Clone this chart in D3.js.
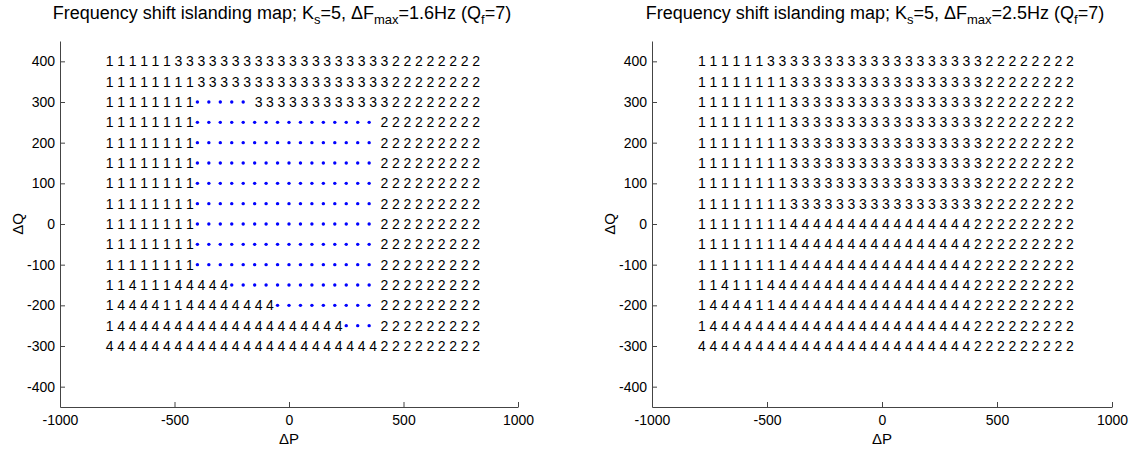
<!DOCTYPE html>
<html>
<head>
<meta charset="utf-8">
<script src="https://cdn.jsdelivr.net/npm/d3@7"></script>
<style>
body { margin: 0; background: #fff; }
svg { display: block; font-family: "Liberation Sans", Arial, sans-serif; }
</style>
</head>
<body>
<svg id="chart" width="1136" height="451"></svg>
<script>
// operating points (columns = dP, rows = dQ, top row first)
var pValues = [-800,-750,-700,-650,-600,-550,-500,-450,-400,-350,-300,-250,-200,-150,-100,-50,0,
               50,100,150,200,250,300,350,400,450,500,550,600,650,700,750,800]
var qValues = [400,350,300,250,200,150,100,50,0,-50,-100,-150,-200,-250,-300]
var xTicks = [-1000,-500,0,500,1000]
var yTicks = [-400,-300,-200,-100,0,100,200,300,400]

// trip code for each point, '.' = island not detected
// (spaces only split the 33 columns into groups of 11)
var mapLow = [
  "11111133333 33333333333 33322222222",
  "11111111333 33333333333 33322222222",
  "11111111... ..333333333 33322222222",
  "11111111... ........... ..222222222",
  "11111111... ........... ..222222222",
  "11111111... ........... ..222222222",
  "11111111... ........... ..222222222",
  "11111111... ........... ..222222222",
  "11111111... ........... ..222222222",
  "11111111... ........... ..222222222",
  "11111111... ........... ..222222222",
  "11411144444 ........... ..222222222",
  "14444114444 4444....... ..222222222",
  "14444444444 4444444444. ..222222222",
  "44444444444 44444444444 44222222222"
]
var mapHigh = [
  "11111133333 33333333333 33322222222",
  "11111111333 33333333333 33322222222",
  "11111111333 33333333333 33322222222",
  "11111111333 33333333333 33322222222",
  "11111111333 33333333333 33322222222",
  "11111111333 33333333333 33322222222",
  "11111111333 33333333333 33322222222",
  "11111111333 33333333333 33322222222",
  "11111111444 44444444444 44222222222",
  "11111111444 44444444444 44222222222",
  "11111111444 44444444444 44222222222",
  "11411144444 44444444444 44222222222",
  "14444114444 44444444444 44222222222",
  "14444444444 44444444444 44222222222",
  "44444444444 44444444444 44222222222"
]

var svg = d3.select("#chart")
var plotTop = 41, plotBottom = 407

var panels = [
  { map: mapLow, fmax: "1.6", x0: 60, x1: 518 },
  { map: mapHigh, fmax: "2.5", x0: 652, x1: 1112 }
]

panels.forEach(function(pn) {
  var x = d3.scaleLinear().domain([-1000, 1000]).range([pn.x0, pn.x1])
  var y = d3.scaleLinear().domain([-450, 450]).range([plotBottom, plotTop])
  var g = svg.append("g")

  // axes, ticks pointing inward like matlab
  g.append("g")
      .attr("transform", "translate(0," + plotBottom + ")")
      .call(d3.axisBottom(x).tickValues(xTicks).tickFormat(d => String(d))
        .tickSize(-5).tickSizeOuter(0).tickPadding(8))
  g.append("g")
      .attr("transform", "translate(" + pn.x0 + ",0)")
      .call(d3.axisLeft(y).tickValues(yTicks).tickFormat(d => String(d))
        .tickSize(-5).tickSizeOuter(0).tickPadding(5))
  g.selectAll(".domain, .tick line").attr("stroke", "#444")
  g.selectAll(".tick text").attr("font-size", 14).attr("fill", "#000")
      .attr("font-family", "Liberation Sans, Arial, sans-serif")

  var cells = []
  pn.map.forEach(function(row, i) {
    row.replace(/ /g, "").split("").forEach(function(c, j) {
      cells.push({ p: pValues[j], q: qValues[i], c: c })
    })
  })

  g.append("g").selectAll("text")
    .data(cells.filter(d => d.c != "."))
    .enter().append("text")
      .attr("x", d => x(d.p))
      .attr("y", d => y(d.q))
      .attr("dy", "0.36em")
      .attr("font-size", 14)
      .text(d => d.c)

  g.append("g").selectAll("circle")
    .data(cells.filter(d => d.c == "."))
    .enter().append("circle")
      .attr("cx", d => x(d.p))
      .attr("cy", d => y(d.q))
      .attr("r", 1.7)
      .attr("fill", "#0000ff")

  // labels
  var cx = (pn.x0 + pn.x1) / 2 - 7
  g.append("text").attr("x", x(0)).attr("y", 444).attr("text-anchor", "middle")
    .attr("font-size", 15).text("\u0394P")
  g.append("text")
    .attr("transform", "translate(" + (pn.x0 - 37) + "," + y(0) + ") rotate(-90)")
    .attr("text-anchor", "middle").attr("font-size", 15).text("\u0394Q")

  var t = g.append("text").attr("x", cx).attr("y", 19).attr("text-anchor", "middle").attr("font-size", 18)
  t.append("tspan").text("Frequency shift islanding map; K")
  t.append("tspan").attr("dy", 5).attr("font-size", 13).text("s")
  t.append("tspan").attr("dy", -5).text("=5, \u0394F")
  t.append("tspan").attr("dy", 5).attr("font-size", 13).text("max")
  t.append("tspan").attr("dy", -5).text("=" + pn.fmax + "Hz (Q")
  t.append("tspan").attr("dy", 5).attr("font-size", 13).text("f")
  t.append("tspan").attr("dy", -5).text("=7)")
})
</script>
</body>
</html>
